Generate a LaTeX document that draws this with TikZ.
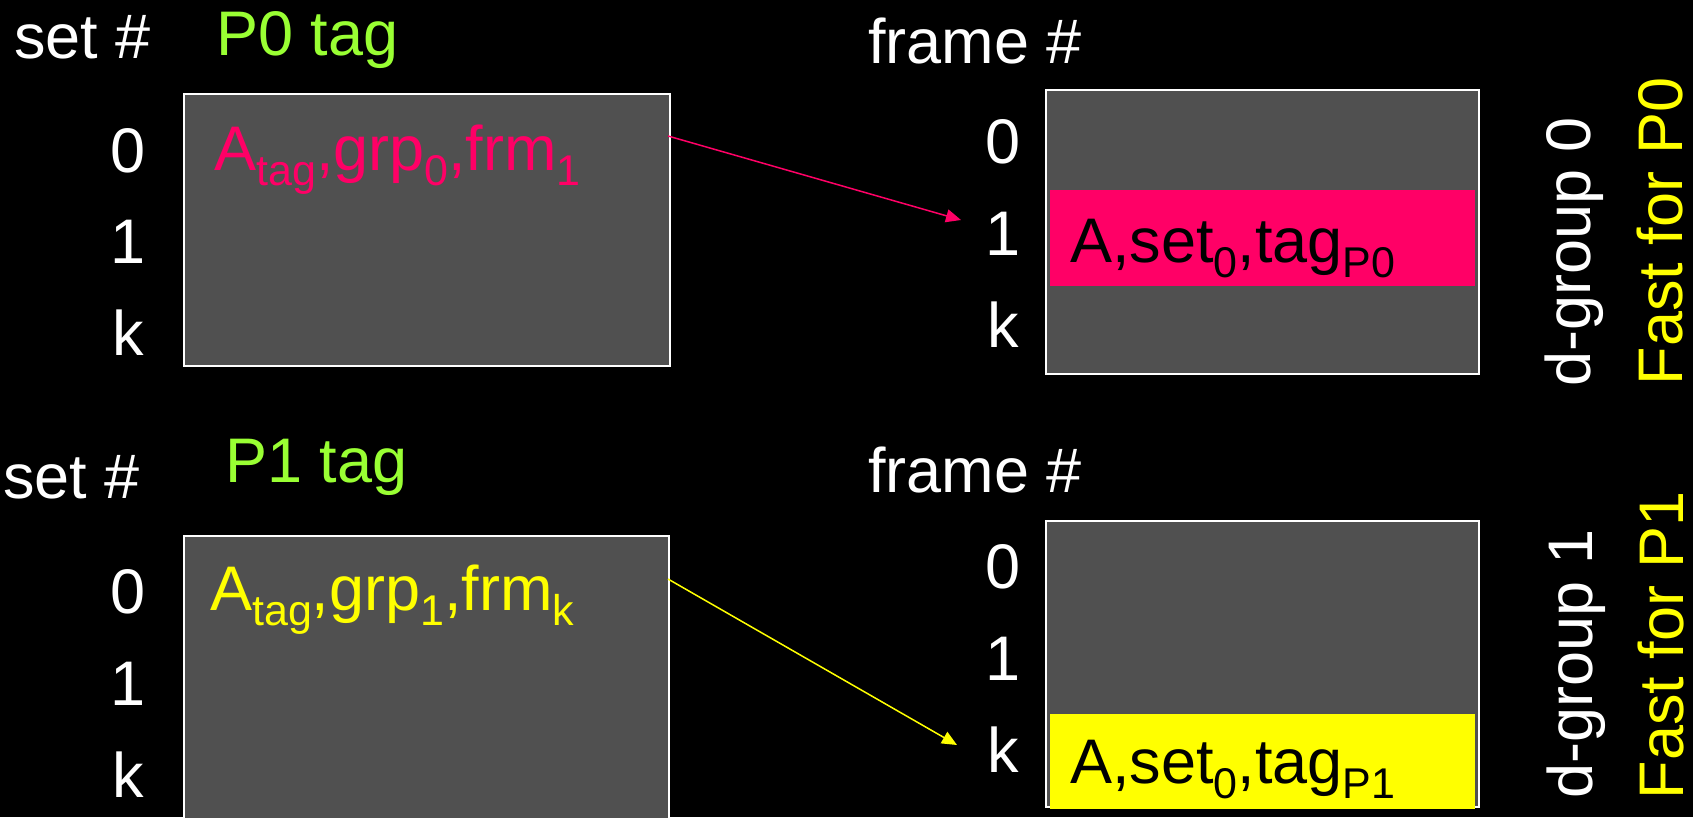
\documentclass[tikz,border=0pt]{standalone}
\usepackage{fontspec}
\setmainfont{Liberation Sans}
\usetikzlibrary{arrows.meta}
\definecolor{mag}{HTML}{FF0066}
\definecolor{yel}{HTML}{FFFF00}
\definecolor{grn}{HTML}{99FF33}
\definecolor{boxgray}{HTML}{505050}
\newcommand{\sbs}[1]{\raisebox{-15.5pt}{\fontsize{43}{43}\selectfont #1}}
\begin{document}
\begin{tikzpicture}[x=1pt,y=-1pt,
  lbl/.style={inner sep=0pt, font=\fontsize{63}{70}\selectfont, text=white},
  membox/.style={draw=white, line width=2pt, fill=boxgray, inner sep=0pt, anchor=north west},
  band/.style={draw=none, inner sep=0pt, anchor=north west, minimum width=425pt},
  arr/.style={line width=1.5pt, -{Triangle[length=15pt,width=13pt]}}]
\fill[black] (0,0) rectangle (1693,817);
\useasboundingbox (0,0) rectangle (1693,817);
\clip (0,0) rectangle (1693,817);

% top half
\node[lbl, anchor=base west] (set0) at (14,58) {set \#};
\node[lbl, anchor=base west, text=grn] (p0tag) at (216,55) {P0 tag};
\node[lbl, anchor=base west] (fr0) at (868,63) {frame \#};

\node[membox, minimum width=486pt, minimum height=272pt] (tl) at (183,93) {};
\node[membox, minimum width=433pt, minimum height=284pt] (tr) at (1045,89) {};
\node[band, fill=mag, minimum height=96pt] (b0) at (1050,190) {};

\node[lbl, anchor=base] (tl0) at (128,172) {0};
\node[lbl, anchor=base] (tl1) at (128,263) {1};
\node[lbl, anchor=base] (tlk) at (128,355) {k};
\node[lbl, anchor=base] (tr0) at (1003,163) {0};
\node[lbl, anchor=base] (tr1) at (1003,255) {1};
\node[lbl, anchor=base] (trk) at (1003,347) {k};

\node[lbl, anchor=base west, text=mag] (e0) at (214,170) {A\sbs{tag},grp\sbs{0},frm\sbs{1}};
\node[lbl, anchor=base west, text=black] (f0) at (1070,262) {A,set\sbs{0},tag\sbs{P0}};

\node[lbl, rotate=90, anchor=base] (dg0) at (1590,252) {d-group 0};
\node[lbl, rotate=90, anchor=base, text=yel] (fp0) at (1682,231) {Fast for P0};

\coordinate (s0) at (668,136);
\coordinate (t0) at (961,220);
\draw[arr, mag] (s0) -- (t0);

% bottom half
\node[lbl, anchor=base west] (set1) at (3,498) {set \#};
\node[lbl, anchor=base west, text=grn] (p1tag) at (225,482) {P1 tag};
\node[lbl, anchor=base west] (fr1) at (868,492) {frame \#};

\node[membox, minimum width=485pt, minimum height=300pt] (bl) at (183,535) {};
\node[membox, minimum width=433pt, minimum height=286pt] (br) at (1045,520) {};
\node[band, fill=yel, minimum height=95pt] (b1) at (1050,714) {};

\node[lbl, anchor=base] (bl0) at (128,613) {0};
\node[lbl, anchor=base] (bl1) at (128,705) {1};
\node[lbl, anchor=base] (blk) at (128,797) {k};
\node[lbl, anchor=base] (br0) at (1003,588) {0};
\node[lbl, anchor=base] (br1) at (1003,680) {1};
\node[lbl, anchor=base] (brk) at (1003,772) {k};

\node[lbl, anchor=base west, text=yel] (e1) at (210,610) {A\sbs{tag},grp\sbs{1},frm\sbs{k}};
\node[lbl, anchor=base west, text=black] (f1) at (1070,783) {A,set\sbs{0},tag\sbs{P1}};

\node[lbl, rotate=90, anchor=base] (dg1) at (1592,664) {d-group 1};
\node[lbl, rotate=90, anchor=base, text=yel] (fp1) at (1683,645) {Fast for P1};

\coordinate (s1) at (668,579);
\coordinate (t1) at (957,745);
\draw[arr, yel] (s1) -- (t1);
\end{tikzpicture}
\end{document}
